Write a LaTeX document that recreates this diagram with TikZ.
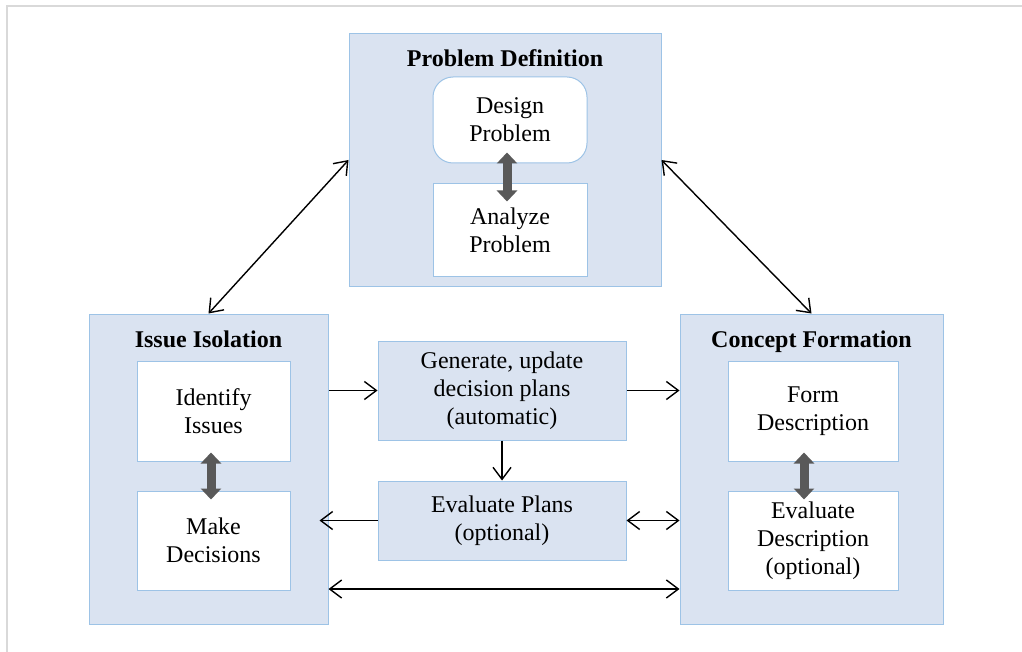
\documentclass[tikz,border=0pt]{standalone}
\usepackage{fontspec}
\setmainfont{Liberation Serif}
\usetikzlibrary{arrows.meta}
\definecolor{panelfill}{HTML}{DAE3F1}
\definecolor{panelline}{HTML}{9DC3E6}
\definecolor{bigarrow}{HTML}{595959}
\definecolor{framegrey}{HTML}{D9D9D9}
\tikzset{
  panel/.style={draw=panelline, line width=1pt, fill=panelfill, inner sep=0pt},
  stepbox/.style={draw=panelline, line width=1pt, fill=white, inner sep=0pt,
    align=center, font=\fontsize{24}{28}\selectfont},
  midbox/.style={draw=panelline, line width=1pt, fill=panelfill, inner sep=0pt,
    align=center, font=\fontsize{24}{28}\selectfont},
  paneltitle/.style={anchor=base, inner sep=0pt, font=\fontsize{24}{28}\selectfont\bfseries},
  tip/.style={line width=1.4pt, black, -{Straight Barb[length=12pt,width=18pt]}},
  tips/.style={line width=1.4pt, black, {Straight Barb[length=12pt,width=18pt]}-{Straight Barb[length=12pt,width=18pt]}},
  fatarrow/.style={line width=9pt, bigarrow, {Triangle[length=11pt,width=20pt]}-{Triangle[length=11pt,width=20pt]}},
}
\begin{document}
\begin{tikzpicture}[x=1pt, y=-1pt]
\useasboundingbox (0,0) rectangle (1022,652);
% page frame
\draw[framegrey, line width=2pt] (7,652) -- (7,6) -- (1022,6);

% Problem Definition
\node[panel, minimum width=312pt, minimum height=252pt] (pd) at (505,160) {};
\node[paneltitle] (pdt) at (505,67) {Problem Definition};
\node[stepbox, rounded corners=20pt, minimum width=154pt, minimum height=86pt] (design) at (510,120) {Design\\Problem};
\node[stepbox, minimum width=154pt, minimum height=92pt] (analyze) at (510,230) {Analyze\\Problem};
\draw[fatarrow] ([xshift=-3pt,yshift=11pt]design.south) -- ([xshift=-3pt,yshift=-18pt]analyze.north);

% Issue Isolation
\node[panel, minimum width=239pt, minimum height=310pt] (ii) at (208.5,469) {};
\node[paneltitle] (iit) at (208.5,347) {Issue Isolation};
\node[stepbox, minimum width=153pt, minimum height=100pt] (identify) at (213.5,411) {Identify\\Issues};
\node[stepbox, minimum width=153pt, minimum height=99pt] (make) at (213.5,540.5) {Make\\Decisions};
\draw[fatarrow] ([xshift=-2.5pt,yshift=9pt]identify.south) -- ([xshift=-2.5pt,yshift=-9pt]make.north);

% Concept Formation
\node[panel, minimum width=263pt, minimum height=310pt] (cf) at (811.5,469) {};
\node[paneltitle] (cft) at (811.5,347) {Concept Formation};
\node[stepbox, minimum width=170pt, minimum height=100pt] (form) at (813,411) {Form\\Description};
\node[stepbox, minimum width=170pt, minimum height=99pt] (evald) at (813,540.5) {Evaluate\\Description\\(optional)};
\draw[fatarrow] ([xshift=-9pt,yshift=9pt]form.south) -- ([xshift=-9pt,yshift=-9pt]evald.north);

% middle column
\node[midbox, minimum width=248pt, minimum height=99pt] (gen) at (502,390.5) {Generate, update\\decision plans\\(automatic)};
\node[midbox, minimum width=248pt, minimum height=79pt] (evalp) at (502,520.5) {Evaluate Plans\\(optional)};

% connectors
\coordinate (low) at (0,589);
\draw[tips] (pd.west) -- (ii.north);
\draw[tips] (pd.east) -- (cf.north);
\draw[tip] (ii.east |- gen.west) -- (gen.west);
\draw[tip] (gen.east) -- (cf.west |- gen.east);
\draw[tip] (gen.south) -- (evalp.north);
\draw[tip, shorten >=-9pt] (evalp.west) -- (ii.east |- evalp.west);
\draw[tips] (evalp.east) -- (cf.west |- evalp.east);
\draw[tips] (ii.east |- low) -- (cf.west |- low);
\end{tikzpicture}
\end{document}
